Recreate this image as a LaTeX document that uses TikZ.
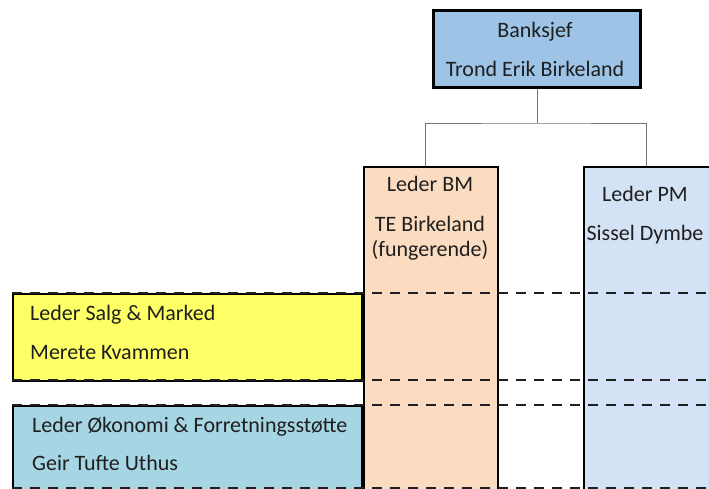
\documentclass[tikz,border=0pt]{standalone}
\usepackage{fontspec}
\setmainfont{Carlito}
\usetikzlibrary{positioning}
\definecolor{chiefblue}{HTML}{9DC3E6}
\definecolor{bmpeach}{HTML}{FBDCC1}
\definecolor{pmblue}{HTML}{D3E2F4}
\definecolor{salgyellow}{HTML}{FFFF66}
\definecolor{okoteal}{HTML}{A6D5E3}
\begin{document}
\begin{tikzpicture}[
  x=1pt, y=-1pt,
  unit/.style={
    draw=black,
    line width=2.4pt,
    inner sep=0pt,
    anchor=north west
  },
  unit_text/.style={
    font=\fontsize{22}{26}\selectfont,
    text=black!88,
    inner sep=0pt,
    anchor=base
  },
  unit_text_left/.style={
    unit_text,
    anchor=base west
  },
  link/.style={
    draw=black!55,
    line width=1pt
  },
  layer/.style={
    draw=black!88,
    line width=2.4pt,
    dash pattern=on 10pt off 8pt
  }
]%
\useasboundingbox (0,0) rectangle (709,488);
\clip (0,0) rectangle (709,488);
% boxes
\node [unit, fill=chiefblue, line width=3pt, minimum width=207pt, minimum height=77pt] (chief) at (432,9) {};
\node [unit, fill=bmpeach, minimum width=134pt, minimum height=340pt] (bm) at (363,166) {};
\node [unit, fill=pmblue, minimum width=140pt, minimum height=340pt] (pm) at (583,166) {};
\node [unit, fill=salgyellow, minimum width=349pt, minimum height=87pt] (salg) at (12,293) {};
\node [unit, fill=okoteal, minimum width=349pt, minimum height=120pt] (oko) at (12,405) {};
% connectors
\coordinate (bm_in) at (425,166);
\coordinate (pm_in) at (646,166);
\draw [link] (chief.south) -- ++(0,34) coordinate (split);
\draw [link] (bm_in) |- (split) -| (pm_in);
% dashed layers
\foreach \y/\name in {293/l1, 380/l2, 405/l3, 488/l4} {
  \coordinate (\name_a) at (12,\y);
  \coordinate (\name_b) at (709,\y);
  \draw [layer] (\name_a) -- (\name_b);
}
% texts
\node [unit_text] (chief_title) at (535,37) {Banksjef};
\node [unit_text] (chief_name) at (535,76) {Trond Erik Birkeland};
\node [unit_text] (bm_title) at (430,191) {Leder BM};
\node [unit_text] (bm_name) at (430,231) {TE Birkeland};
\node [unit_text] (bm_note) at (430,256) {(fungerende)};
\node [unit_text] (pm_title) at (645,201) {Leder PM};
\node [unit_text] (pm_name) at (645,240) {Sissel Dymbe};
\node [unit_text_left] (salg_title) at (30,320) {Leder Salg \& Marked};
\node [unit_text_left] (salg_name) at (30,359) {Merete Kvammen};
\node [unit_text_left] (oko_title) at (32,432) {Leder Økonomi \& Forretningsstøtte};
\node [unit_text_left] (oko_name) at (32,470) {Geir Tufte Uthus};
\end{tikzpicture}
\end{document}
